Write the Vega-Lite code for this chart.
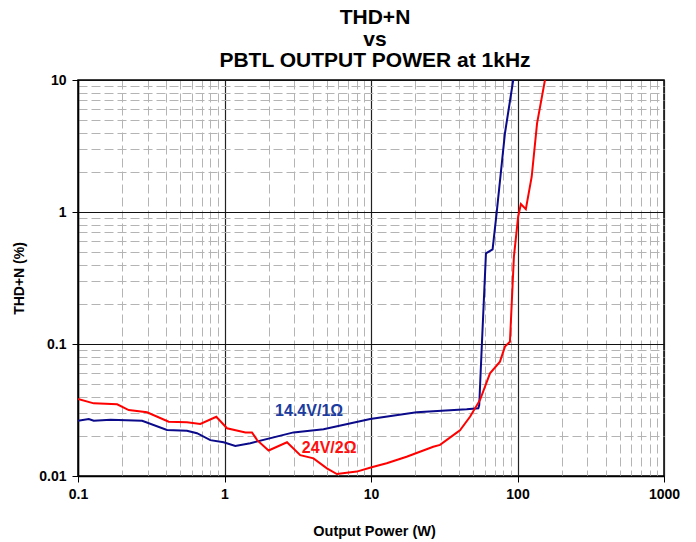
{
  "$schema": "https://vega.github.io/schema/vega-lite/v6.json",
  "autosize": {"type": "none"},
  "padding": {"left": 78, "top": 80, "right": 32, "bottom": 66},
  "width": 586,
  "height": 396,
  "background": "white",
  "config": {
    "view": {"stroke": "black", "strokeWidth": 1.5},
    "font": "Liberation Sans"
  },
  "title": {
    "text": ["THD+N", "vs", "PBTL OUTPUT POWER at 1kHz"],
    "font": "Liberation Sans",
    "fontSize": 21,
    "fontWeight": "bold",
    "color": "black",
    "lineHeight": 21.5,
    "anchor": "middle",
    "offset": 2,
    "dx": 4
  },
  "datasets": {
    "curves": [
      {"series": "14.4V/1Ω", "p": 0.1, "thd": 0.0262},
      {"series": "14.4V/1Ω", "p": 0.1185, "thd": 0.027},
      {"series": "14.4V/1Ω", "p": 0.128, "thd": 0.0262},
      {"series": "14.4V/1Ω", "p": 0.167, "thd": 0.0267},
      {"series": "14.4V/1Ω", "p": 0.274, "thd": 0.0262},
      {"series": "14.4V/1Ω", "p": 0.405, "thd": 0.0223},
      {"series": "14.4V/1Ω", "p": 0.554, "thd": 0.022},
      {"series": "14.4V/1Ω", "p": 0.649, "thd": 0.0211},
      {"series": "14.4V/1Ω", "p": 0.8, "thd": 0.0187},
      {"series": "14.4V/1Ω", "p": 0.986, "thd": 0.018},
      {"series": "14.4V/1Ω", "p": 1.185, "thd": 0.01687},
      {"series": "14.4V/1Ω", "p": 1.5, "thd": 0.0177},
      {"series": "14.4V/1Ω", "p": 2.96, "thd": 0.0214},
      {"series": "14.4V/1Ω", "p": 4.74, "thd": 0.0226},
      {"series": "14.4V/1Ω", "p": 9.87, "thd": 0.027},
      {"series": "14.4V/1Ω", "p": 20.5, "thd": 0.0304},
      {"series": "14.4V/1Ω", "p": 45.0, "thd": 0.032},
      {"series": "14.4V/1Ω", "p": 54.0, "thd": 0.0326},
      {"series": "14.4V/1Ω", "p": 54.8, "thd": 0.0345},
      {"series": "14.4V/1Ω", "p": 56.9, "thd": 0.09},
      {"series": "14.4V/1Ω", "p": 60.9, "thd": 0.486},
      {"series": "14.4V/1Ω", "p": 67.6, "thd": 0.521},
      {"series": "14.4V/1Ω", "p": 72.0, "thd": 0.977},
      {"series": "14.4V/1Ω", "p": 82.1, "thd": 3.95},
      {"series": "14.4V/1Ω", "p": 93.5, "thd": 10},
      {"series": "24V/2Ω", "p": 0.1, "thd": 0.0383},
      {"series": "24V/2Ω", "p": 0.128, "thd": 0.0355},
      {"series": "24V/2Ω", "p": 0.185, "thd": 0.0349},
      {"series": "24V/2Ω", "p": 0.222, "thd": 0.0316},
      {"series": "24V/2Ω", "p": 0.296, "thd": 0.0304},
      {"series": "24V/2Ω", "p": 0.416, "thd": 0.0258},
      {"series": "24V/2Ω", "p": 0.554, "thd": 0.0255},
      {"series": "24V/2Ω", "p": 0.684, "thd": 0.0248},
      {"series": "24V/2Ω", "p": 0.879, "thd": 0.0281},
      {"series": "24V/2Ω", "p": 1.04, "thd": 0.023},
      {"series": "24V/2Ω", "p": 1.39, "thd": 0.0214},
      {"series": "24V/2Ω", "p": 1.54, "thd": 0.0214},
      {"series": "24V/2Ω", "p": 1.67, "thd": 0.0187},
      {"series": "24V/2Ω", "p": 2.0, "thd": 0.0156},
      {"series": "24V/2Ω", "p": 2.67, "thd": 0.018},
      {"series": "24V/2Ω", "p": 3.29, "thd": 0.0144},
      {"series": "24V/2Ω", "p": 4.05, "thd": 0.0136},
      {"series": "24V/2Ω", "p": 5.0, "thd": 0.01143},
      {"series": "24V/2Ω", "p": 5.85, "thd": 0.01035},
      {"series": "24V/2Ω", "p": 8.0, "thd": 0.0108},
      {"series": "24V/2Ω", "p": 10.1, "thd": 0.01164},
      {"series": "24V/2Ω", "p": 12.8, "thd": 0.01248},
      {"series": "24V/2Ω", "p": 17.5, "thd": 0.014},
      {"series": "24V/2Ω", "p": 26.6, "thd": 0.01667},
      {"series": "24V/2Ω", "p": 29.6, "thd": 0.0172},
      {"series": "24V/2Ω", "p": 38.5, "thd": 0.0213},
      {"series": "24V/2Ω", "p": 40.5, "thd": 0.0222},
      {"series": "24V/2Ω", "p": 47.4, "thd": 0.0281},
      {"series": "24V/2Ω", "p": 55.5, "thd": 0.0377},
      {"series": "24V/2Ω", "p": 64.9, "thd": 0.06},
      {"series": "24V/2Ω", "p": 75.9, "thd": 0.0735},
      {"series": "24V/2Ω", "p": 82.1, "thd": 0.0955},
      {"series": "24V/2Ω", "p": 88.8, "thd": 0.104},
      {"series": "24V/2Ω", "p": 94.5, "thd": 0.458},
      {"series": "24V/2Ω", "p": 101, "thd": 0.92},
      {"series": "24V/2Ω", "p": 105.5, "thd": 1.15},
      {"series": "24V/2Ω", "p": 114, "thd": 1.05},
      {"series": "24V/2Ω", "p": 125, "thd": 1.85},
      {"series": "24V/2Ω", "p": 136, "thd": 4.7},
      {"series": "24V/2Ω", "p": 154, "thd": 10}
    ],
    "labels": [
      {"series": "14.4V/1Ω", "p": 3.78, "thd": 0.031},
      {"series": "24V/2Ω", "p": 5.18, "thd": 0.0163}
    ]
  },
  "encoding": {
    "x": {
      "field": "p",
      "type": "quantitative",
      "scale": {"type": "log", "domain": [0.1, 1000], "nice": false},
      "axis": {
        "title": "Output Power (W)",
        "titleFont": "Liberation Sans",
        "titleFontSize": 14.5,
        "titleFontWeight": "bold",
        "titleColor": "black",
        "titlePadding": 23,
        "titleX": 296,
        "values": [0.1,0.2,0.3,0.4,0.5,0.6,0.7,0.8,0.9,1,2,3,4,5,6,7,8,9,10,20,30,40,50,60,70,80,90,100,200,300,400,500,600,700,800,900,1000],
        "format": "~g",
        "labelExpr": "abs(log(datum.value)/LN10 - round(log(datum.value)/LN10)) < 0.01 ? datum.label : ''",
        "labelFont": "Liberation Sans",
        "labelFontSize": 14,
        "labelFontWeight": "bold",
        "labelColor": "black",
        "labelOverlap": false,
        "labelFlush": false,
        "labelBound": false,
        "labelPadding": 5,
        "domainColor": "black",
        "domainWidth": 1.5,
        "tickSize": 6,
        "tickColor": {"condition": {"test": "abs(log(datum.value)/LN10 - round(log(datum.value)/LN10)) < 0.01", "value": "black"}, "value": "transparent"},
        "grid": true,
        "gridColor": {"condition": {"test": "abs(log(datum.value)/LN10 - round(log(datum.value)/LN10)) < 0.01", "value": "#222222"}, "value": "#b4b4b4"},
        "gridDash": {"condition": {"test": "abs(log(datum.value)/LN10 - round(log(datum.value)/LN10)) < 0.01", "value": []}, "value": [9, 4]},
        "gridWidth": {"condition": {"test": "abs(log(datum.value)/LN10 - round(log(datum.value)/LN10)) < 0.01", "value": 1.2}, "value": 1}
      }
    },
    "y": {
      "field": "thd",
      "type": "quantitative",
      "scale": {"type": "log", "domain": [0.01, 10], "nice": false},
      "axis": {
        "title": "THD+N (%)",
        "titleFont": "Liberation Sans",
        "titleFontSize": 14,
        "titleFontWeight": "bold",
        "titleColor": "black",
        "titlePadding": 12,
        "values": [0.01,0.02,0.03,0.04,0.05,0.06,0.07,0.08,0.09,0.1,0.2,0.3,0.4,0.5,0.6,0.7,0.8,0.9,1,2,3,4,5,6,7,8,9,10],
        "format": "~g",
        "labelExpr": "abs(log(datum.value)/LN10 - round(log(datum.value)/LN10)) < 0.01 ? datum.label : ''",
        "labelFont": "Liberation Sans",
        "labelFontSize": 14,
        "labelFontWeight": "bold",
        "labelColor": "black",
        "labelOverlap": false,
        "labelFlush": false,
        "labelBound": false,
        "labelPadding": 6,
        "domainColor": "black",
        "domainWidth": 1.5,
        "tickSize": 6,
        "tickColor": {"condition": {"test": "abs(log(datum.value)/LN10 - round(log(datum.value)/LN10)) < 0.01", "value": "black"}, "value": "transparent"},
        "grid": true,
        "gridColor": {"condition": {"test": "abs(log(datum.value)/LN10 - round(log(datum.value)/LN10)) < 0.01", "value": "#111111"}, "value": "#b4b4b4"},
        "gridDash": {"condition": {"test": "abs(log(datum.value)/LN10 - round(log(datum.value)/LN10)) < 0.01", "value": []}, "value": [9, 4]},
        "gridWidth": {"condition": {"test": "abs(log(datum.value)/LN10 - round(log(datum.value)/LN10)) < 0.01", "value": 1.2}, "value": 1}
      }
    }
  },
  "layer": [
    {
      "data": {"name": "curves"},
      "mark": {"type": "line", "strokeWidth": 2, "clip": true},
      "encoding": {
        "color": {
          "field": "series",
          "type": "nominal",
          "scale": {"domain": ["14.4V/1Ω", "24V/2Ω"], "range": ["#0a0a8a", "#ff0000"]},
          "legend": null
        }
      }
    },
    {
      "data": {"name": "labels"},
      "mark": {"type": "text", "font": "Liberation Sans", "fontSize": 16, "fontWeight": "bold", "align": "center", "baseline": "middle"},
      "encoding": {
        "text": {"field": "series"},
        "color": {
          "field": "series",
          "type": "nominal",
          "scale": {"domain": ["14.4V/1Ω", "24V/2Ω"], "range": ["#1c3ca0", "#ff1010"]},
          "legend": null
        }
      }
    }
  ],
  "resolve": {"scale": {"color": "independent"}}
}
